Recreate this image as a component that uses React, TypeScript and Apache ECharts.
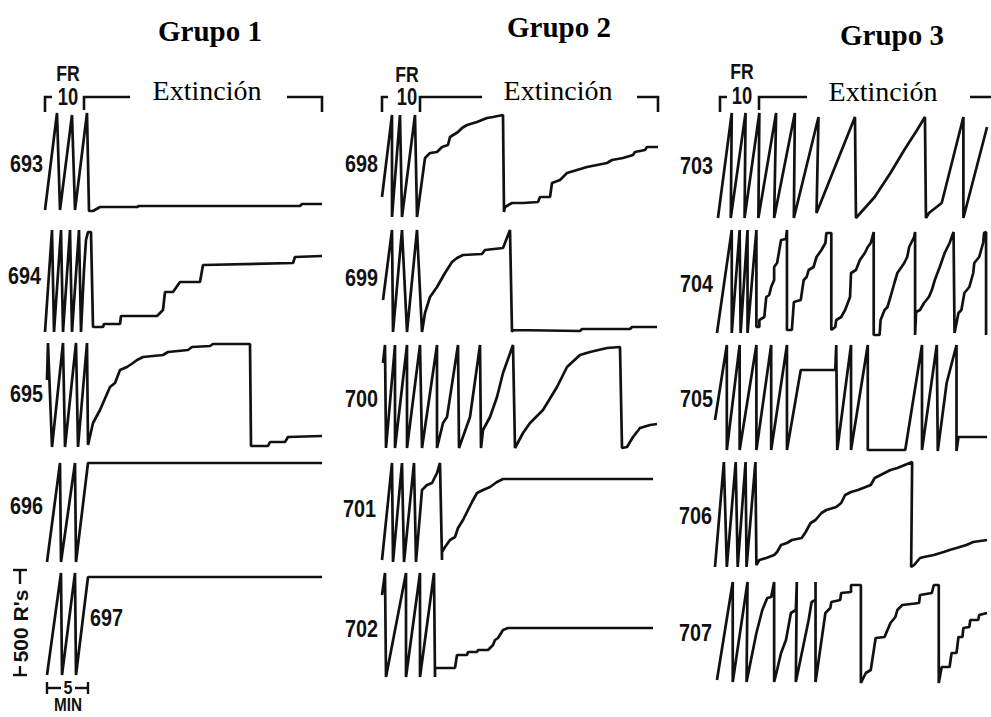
import React, { useEffect, useRef } from "react";
import * as echarts from "echarts";

// ---------- texts ----------
const groups = ["Grupo 1", "Grupo 2", "Grupo 3"];
const phaseLabel = "Extinción";
const scheduleTop = "FR";
const scheduleBottom = "10";
const subjects = [
  ["693", "694", "695", "696", "697"],
  ["698", "699", "700", "701", "702"],
  ["703", "704", "705", "706", "707"],
];
const scaleResponses = "500 R's";
const scaleTimeValue = "5";
const scaleTimeUnit = "MIN";

// ---------- cumulative records: [minutes, cumulative responses since last pen reset] ----------
const rec693 = [[0,5],[1.5,490],[1.875,5],[3.375,480],[3.75,5],[5.25,490],[5.5,0],[6,0],[6.875,20],[11.5,20],[11.75,25],[31.875,25],[32.125,35],[34.625,35]];
const rec694 = [[0,0],[0.875,510],[1.125,0],[2,510],[2.25,0],[3.125,510],[3.375,0],[4.25,510],[4.5,0],[4.875,310],[5.125,460],[5.375,500],[5.75,500],[6,25],[7.25,25],[7.375,40],[9.375,40],[9.5,80],[14,80],[14.75,110],[15,200],[16,200],[16.875,250],[19.375,250],[19.75,335],[31,345],[31.25,375],[34.625,380]];
const rec695 = [[0.25,335],[0.375,520],[0.875,0],[2.25,520],[2.5,0],[3.875,520],[4.125,0],[5.25,520],[5.375,10],[6,120],[6.875,185],[8.125,300],[8.75,320],[9.375,385],[10.25,400],[11,420],[11.5,435],[12.25,450],[14.75,460],[15.375,475],[17.875,485],[18.375,500],[20.625,505],[21,515],[25.625,515],[25.75,5],[27.875,5],[28.125,25],[30,25],[30.375,50],[34.625,55]];
const rec696 = [[0.25,0],[1.875,495],[2,0],[3.75,495],[3.875,0],[5.375,495],[34.625,495]];
const rec697 = [[0.25,0],[2,510],[2.125,0],[3.75,510],[3.875,0],[5.375,490],[34.625,490]];
const rec698 = [[0,100],[1.25,510],[1.25,0],[2.25,510],[2.5,0],[4.125,510],[4.375,0],[5.375,295],[6,320],[6.875,325],[7.5,350],[8.25,360],[8.5,400],[9.5,425],[10,445],[10.625,460],[11.875,475],[13.125,495],[13.875,500],[15.125,510],[15.25,25],[15.375,50],[16.25,70],[17.625,70],[19.5,75],[19.75,100],[21,100],[21.25,170],[22.25,185],[23.125,220],[24.375,235],[25.625,250],[26.875,260],[28.125,270],[28.75,285],[30.125,295],[31.375,310],[31.625,325],[32.875,335],[33.125,350],[34.5,350]];
const rec699 = [[0.125,160],[1.25,510],[1.375,0],[2.5,510],[3.125,0],[4.375,510],[5,0],[5.375,95],[6,175],[6.875,225],[7.875,295],[8.75,350],[9.375,370],[10.125,385],[12.5,390],[12.875,410],[15.125,420],[16,510],[16.25,0],[16.375,10],[24.75,5],[25,15],[31,15],[31.25,25],[34.375,25]];
const rec700 = [[0.125,425],[0.375,515],[0.5,0],[1.625,515],[1.625,0],[3.125,515],[3.125,0],[4.75,515],[5,0],[6.875,515],[6.875,0],[7.625,125],[8.125,155],[9.5,515],[9.625,0],[11,155],[12.25,515],[12.375,0],[12.625,90],[13.5,155],[14.375,255],[15.125,375],[16.375,515],[16.625,0],[17.625,75],[18.5,125],[20.125,190],[21.875,305],[23.125,405],[24.75,465],[26,480],[28.125,500],[29.75,505],[30,0],[30.625,5],[31.375,55],[32.25,100],[33.5,115],[34.375,120]];
const rec701 = [[0,10],[1.25,495],[1.375,0],[2.5,495],[2.75,0],[4,495],[4.25,0],[5,360],[5.625,385],[6.25,395],[6.875,445],[7.25,495],[7.5,10],[7.5,50],[7.875,75],[8.5,110],[9.125,125],[9.5,170],[10.125,210],[10.625,250],[11.25,300],[11.875,345],[12.625,360],[13.5,375],[14.375,400],[15.125,415],[33.875,415]];
const rec702 = [[0,410],[0.375,520],[0.5,0],[3,520],[3,0],[4.75,520],[4.75,0],[6.5,520],[6.625,0],[6.625,45],[9.125,45],[9.375,110],[10.625,110],[10.75,125],[11.875,125],[12,135],[13.25,135],[13.875,160],[14.125,185],[14.5,195],[15.125,235],[15.75,245],[33.875,245]];
const rec703 = [[0.375,0],[2.125,525],[2,0],[3.875,525],[3.75,0],[5.625,525],[5.5,0],[7.75,525],[7.5,0],[10.125,525],[10,0],[13.125,505],[12.875,25],[17.75,505],[17.875,0],[20.25,105],[22.25,225],[24,340],[25.625,440],[26.625,505],[26.75,0],[27.125,25],[28.75,75],[31.5,505],[31.5,0],[34.5,455]];
const rec704 = [[0.25,10],[2.125,525],[2.125,10],[3.125,525],[3.25,10],[4.125,525],[4.125,10],[5.25,525],[5.25,40],[5.625,40],[5.625,75],[6.25,90],[6.5,190],[6.875,200],[7.125,240],[7.5,275],[7.5,340],[7.875,360],[8.375,475],[9,480],[9.125,525],[9.125,25],[9.75,25],[10,165],[10.875,175],[11.25,275],[11.625,290],[11.875,325],[12.5,340],[12.875,390],[13.5,425],[14,460],[14.125,510],[14.75,510],[14.75,25],[15.25,40],[15.375,75],[16,90],[16.5,125],[17.125,190],[17.25,310],[17.875,325],[18.375,375],[19,410],[19.375,440],[19.75,460],[20.125,515],[20.125,0],[20.875,0],[21,75],[21.5,125],[21.875,140],[22.25,190],[22.75,260],[23.125,310],[24,360],[24.375,390],[24.625,440],[25.25,490],[25.375,515],[25.375,0],[25.5,115],[26,125],[26.5,160],[27.125,190],[27.5,225],[27.875,275],[28.5,340],[29.125,410],[29.75,460],[30.25,515],[30.375,10],[30.875,110],[31.25,125],[31.625,210],[32.25,240],[32.75,310],[32.875,360],[33.5,390],[34,460],[34.125,510],[34.375,515],[34.375,0]];
const rec705 = [[0,155],[1.5,530],[1.5,5],[3.125,530],[3.125,5],[5.25,530],[5.25,5],[7.125,530],[7.125,5],[9.125,530],[9.125,5],[10.875,405],[15.25,405],[15.375,530],[15.5,5],[17.25,530],[17.25,5],[19.375,530],[19.375,5],[24.125,5],[26.25,530],[26.25,5],[28.125,530],[28.25,0],[29.375,340],[30.625,530],[30.625,0],[30.875,70],[34.5,70]];
const rec706 = [[0,0],[1.125,525],[1.5,0],[2.625,525],[2.875,0],[3.875,525],[4,0],[5.125,525],[5.25,10],[5.625,35],[6.5,45],[7.5,60],[7.875,75],[8.375,110],[9.125,120],[9.75,135],[11,145],[11.5,175],[12.125,220],[12.75,235],[13.5,270],[14.125,285],[15.375,300],[16,320],[16.5,360],[17.25,375],[18.125,385],[19.75,410],[20.25,445],[21.5,470],[22.25,485],[23.125,495],[25,525],[24.875,0],[25.25,10],[26,45],[26.5,50],[27.75,60],[29,75],[29.75,85],[30.625,95],[31.875,110],[32.75,125],[34.5,135]];
const rec707 = [[0.25,15],[2.25,505],[2.25,5],[4.125,505],[4,5],[5.25,250],[6,365],[6.625,425],[7.125,430],[7.5,505],[7.5,5],[7.875,65],[8.375,150],[9,215],[9.625,350],[10.25,365],[10.375,505],[10.25,5],[11.875,315],[12.25,405],[12.75,415],[12.75,505],[12.75,5],[14,350],[14.625,375],[14.75,405],[15.875,415],[16,450],[17.25,455],[17.25,490],[18.5,490],[18.5,0],[19.125,50],[19.75,65],[20.375,225],[21.5,230],[22.25,300],[22.875,330],[23.125,365],[23.75,390],[25.875,400],[26,440],[27.5,450],[27.75,490],[28.375,490],[28.375,0],[28.75,80],[29.75,80],[30,150],[30.625,150],[30.875,230],[31.375,230],[31.5,275],[32.25,280],[32.375,315],[33.375,315],[33.5,340],[34.5,350]];

const records: Record<string, number[][]> = {
  "693": rec693, "694": rec694, "695": rec695, "696": rec696, "697": rec697,
  "698": rec698, "699": rec699, "700": rec700, "701": rec701, "702": rec702,
  "703": rec703, "704": rec704, "705": rec705, "706": rec706, "707": rec707,
};

// ---------- layout (pixels) ----------
const W = 991;
const H = 717;
const colLeft = [45, 382, 715];
const panelBottom = [
  [211, 332, 447, 562, 675],
  [217, 332, 448, 562, 677],
  [218, 335, 451, 567, 683],
];
const PX_PER_MIN = 8;
const RESP_PER_PX = 5;
const X_MAX = 35; // minutes
const Y_MAX = 550; // responses
const gridW = X_MAX * PX_PER_MIN;
const gridH = Y_MAX / RESP_PER_PX;
// subject label positions [x, y, align]
const labelPos: [number, number, string][][] = [
  [[43, 164, "right"], [41, 276, "right"], [43, 394, "right"], [43, 506, "right"], [90, 618, "left"]],
  [[378, 164, "right"], [378, 278, "right"], [378, 399, "right"], [376, 509, "right"], [378, 629, "right"]],
  [[713, 166, "right"], [713, 284, "right"], [713, 399, "right"], [712, 516, "right"], [712, 633, "right"]],
];
const titlePos = [[210, 31], [559, 27], [892, 35]];
const extPos = [[207, 90], [558, 90], [883, 91]];
const frPos = [[68, 73, 97], [407, 74, 97], [742, 71, 96]];
const bracketLines = [
  [[[45, 112], [45, 97], [52, 97]], [[84, 110], [84, 97], [130, 97]], [[287, 97], [322, 97], [322, 112]]],
  [[[382, 112], [382, 97], [388, 97]], [[420, 112], [420, 97], [482, 97]], [[637, 97], [658, 97], [658, 112]]],
  [[[720, 112], [720, 97], [727, 97]], [[759, 110], [759, 97], [807, 97]], [[970, 97], [995, 97]]],
];

const INK = "#111";
const SERIF = "'Liberation Serif', 'Times New Roman', serif";
const SANS = "'Liberation Sans', Arial, sans-serif";

export default function App() {
  const ref = useRef<HTMLDivElement>(null);
  useEffect(() => {
    if (!ref.current) return;
    document.body.style.margin = "0";
    const chart = echarts.init(ref.current, undefined, { renderer: "svg" });

    const grid: any[] = [];
    const xAxis: any[] = [];
    const yAxis: any[] = [];
    const series: any[] = [];
    const graphic: any[] = [];

    subjects.forEach((col, c) => {
      col.forEach((id, r) => {
        const idx = grid.length;
        grid.push({ left: colLeft[c], top: panelBottom[c][r] - gridH, width: gridW, height: gridH, containLabel: false });
        xAxis.push({ type: "value", gridIndex: idx, min: 0, max: X_MAX, show: false });
        yAxis.push({ type: "value", gridIndex: idx, min: 0, max: Y_MAX, show: false });
        series.push({
          type: "line",
          name: id,
          xAxisIndex: idx,
          yAxisIndex: idx,
          data: records[id],
          showSymbol: false,
          symbol: "none",
          clip: false,
          lineStyle: { color: INK, width: 2.7 },
          silent: true,
        });
        const [lx, ly, al] = labelPos[c][r];
        graphic.push({
          type: "text", x: lx, y: ly, scaleX: 0.86,
          style: { text: id, fill: INK, font: `bold 23px ${SANS}`, textAlign: al, textVerticalAlign: "middle" },
        });
      });
      graphic.push({
        type: "text", x: titlePos[c][0], y: titlePos[c][1],
        style: { text: groups[c], fill: "#000", font: `bold 29px ${SERIF}`, textAlign: "center", textVerticalAlign: "middle" },
      });
      graphic.push({
        type: "text", x: extPos[c][0], y: extPos[c][1],
        style: { text: phaseLabel, fill: "#000", font: `28px ${SERIF}`, textAlign: "center", textVerticalAlign: "middle" },
      });
      graphic.push({
        type: "text", x: frPos[c][0], y: frPos[c][1], scaleX: 0.8,
        style: { text: scheduleTop, fill: INK, font: `bold 22px ${SANS}`, textAlign: "center", textVerticalAlign: "middle" },
      });
      graphic.push({
        type: "text", x: frPos[c][0], y: frPos[c][2], scaleX: 0.8,
        style: { text: scheduleBottom, fill: INK, font: `bold 23px ${SANS}`, textAlign: "center", textVerticalAlign: "middle" },
      });
      bracketLines[c].forEach((pts) => {
        graphic.push({ type: "polyline", shape: { points: pts }, style: { stroke: INK, lineWidth: 2.6, fill: null } });
      });
    });

    // response scale bar
    graphic.push({ type: "line", shape: { x1: 20, y1: 570, x2: 20, y2: 584 }, style: { stroke: INK, lineWidth: 2.4 } });
    graphic.push({ type: "line", shape: { x1: 13, y1: 570, x2: 27, y2: 570 }, style: { stroke: INK, lineWidth: 2.4 } });
    graphic.push({ type: "line", shape: { x1: 20, y1: 666, x2: 20, y2: 675 }, style: { stroke: INK, lineWidth: 2.4 } });
    graphic.push({ type: "line", shape: { x1: 13, y1: 675, x2: 27, y2: 675 }, style: { stroke: INK, lineWidth: 2.4 } });
    graphic.push({
      type: "text", x: 20, y: 626, rotation: Math.PI / 2,
      style: { text: scaleResponses, fill: INK, font: `bold 21px ${SANS}`, textAlign: "center", textVerticalAlign: "middle" },
    });
    // time scale bar
    graphic.push({ type: "line", shape: { x1: 47, y1: 688, x2: 61, y2: 688 }, style: { stroke: INK, lineWidth: 2.4 } });
    graphic.push({ type: "line", shape: { x1: 75, y1: 688, x2: 88, y2: 688 }, style: { stroke: INK, lineWidth: 2.4 } });
    graphic.push({ type: "line", shape: { x1: 47, y1: 682, x2: 47, y2: 694 }, style: { stroke: INK, lineWidth: 2.4 } });
    graphic.push({ type: "line", shape: { x1: 88, y1: 682, x2: 88, y2: 694 }, style: { stroke: INK, lineWidth: 2.4 } });
    graphic.push({
      type: "text", x: 68, y: 688, scaleX: 0.85,
      style: { text: scaleTimeValue, fill: INK, font: `bold 19px ${SANS}`, textAlign: "center", textVerticalAlign: "middle" },
    });
    graphic.push({
      type: "text", x: 68, y: 705, scaleX: 0.85,
      style: { text: scaleTimeUnit, fill: INK, font: `bold 18px ${SANS}`, textAlign: "center", textVerticalAlign: "middle" },
    });

    chart.setOption({
      animation: false,
      backgroundColor: "#fff",
      grid,
      xAxis,
      yAxis,
      series,
      graphic,
    });
    return () => chart.dispose();
  }, []);
  return <div ref={ref} style={{ position: "absolute", left: 0, top: 0, width: W, height: H }} />;
}
